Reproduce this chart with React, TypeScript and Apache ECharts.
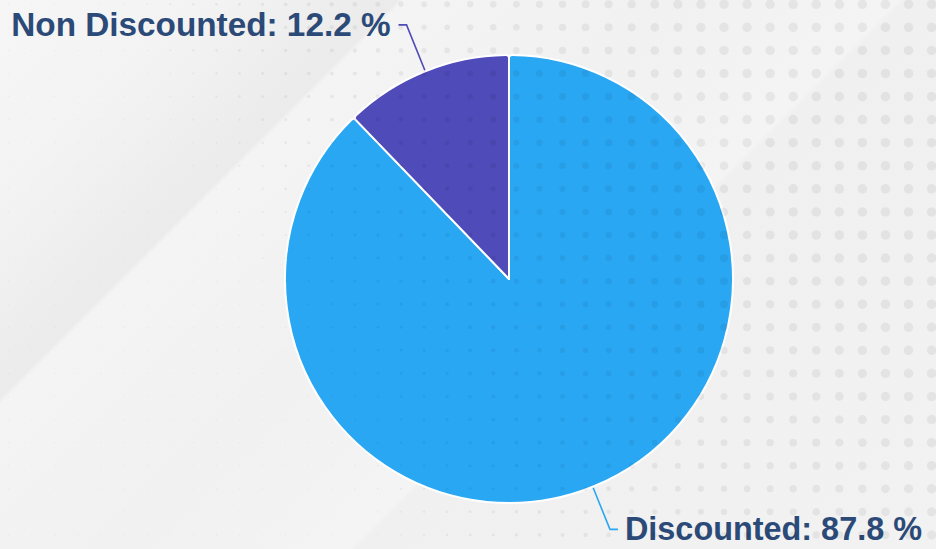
import React, { useEffect, useRef } from "react";
import * as echarts from "echarts";

const categories = ["Discounted", "Non Discounted"];
const values = [87.8, 12.2];
const colors = ["#29a7f3", "#4f4bb8"];

const W = 936;
const H = 549;

function Dots() {
  const items: React.ReactNode[] = [];
  const step = 23.07;
  for (let i = 0; i < 41; i++) {
    for (let j = 0; j < 24; j++) {
      const x = 8.8 + i * step;
      const y = 4.3 + j * step;
      let s = (x - 0.5 * y - 100) / 600;
      s = Math.max(0, Math.min(1, s));
      const r = 0.6 + 4.2 * s;
      items.push(<circle key={i + "_" + j} cx={x} cy={y} r={r} />);
    }
  }
  return (
    <svg
      width={W}
      height={H}
      style={{ position: "absolute", left: 0, top: 0, pointerEvents: "none" }}
    >
      <g fill="rgba(0,0,0,0.055)">{items}</g>
    </svg>
  );
}

export default function App() {
  const ref = useRef<HTMLDivElement>(null);
  useEffect(() => {
    if (!ref.current) return;
    const chart = echarts.init(ref.current, undefined, { renderer: "svg" });
    chart.setOption({
      animation: false,
      backgroundColor: "transparent",
      series: [
        {
          type: "pie",
          center: [509, 279],
          radius: 224,
          startAngle: 90,
          clockwise: true,
          avoidLabelOverlap: false,
          data: categories.map((c, i) => ({
            name: c,
            value: values[i],
            itemStyle: { color: colors[i] },
            label: i === 0 ? { fontSize: 32.4, distanceToLabelLine: 7 } : { fontSize: 33.3, distanceToLabelLine: 8 },
            labelLine: i === 0 ? { length: 46, length2: 8 } : { length: 50, length2: 8 },
          })),
          itemStyle: { borderColor: "#ffffff", borderWidth: 2, borderRadius: 3 },
          label: {
            show: true,
            position: "outside",
            formatter: "{b}: {c} %",
            fontSize: 33,
            lineHeight: 26,
            fontWeight: "bold",
            fontFamily: "'Liberation Sans', Arial, sans-serif",
            color: "#2b4a78",
            distanceToLabelLine: 9,
          },
          labelLine: {
            show: true,
            length: 50,
            length2: 8,
            lineStyle: { width: 1.6 },
          },
          emphasis: { disabled: true },
        },
      ],
    });
    return () => chart.dispose();
  }, []);

  return (
    <div
      style={{
        position: "fixed",
        left: 0,
        top: 0,
        width: W,
        height: H,
        overflow: "hidden",
        background:
          "linear-gradient(135deg, #f6f6f6 0%, #f3f3f3 14%, #ebebeb 26.8%, #f4f4f4 27.2%, #f1f1f1 45%, #f4f4f4 60.5%, #f0f0f0 61%, #f2f2f2 100%)",
      }}
    >
      <div ref={ref} style={{ position: "absolute", left: 0, top: 0, width: W, height: H }} />
      <Dots />
    </div>
  );
}
